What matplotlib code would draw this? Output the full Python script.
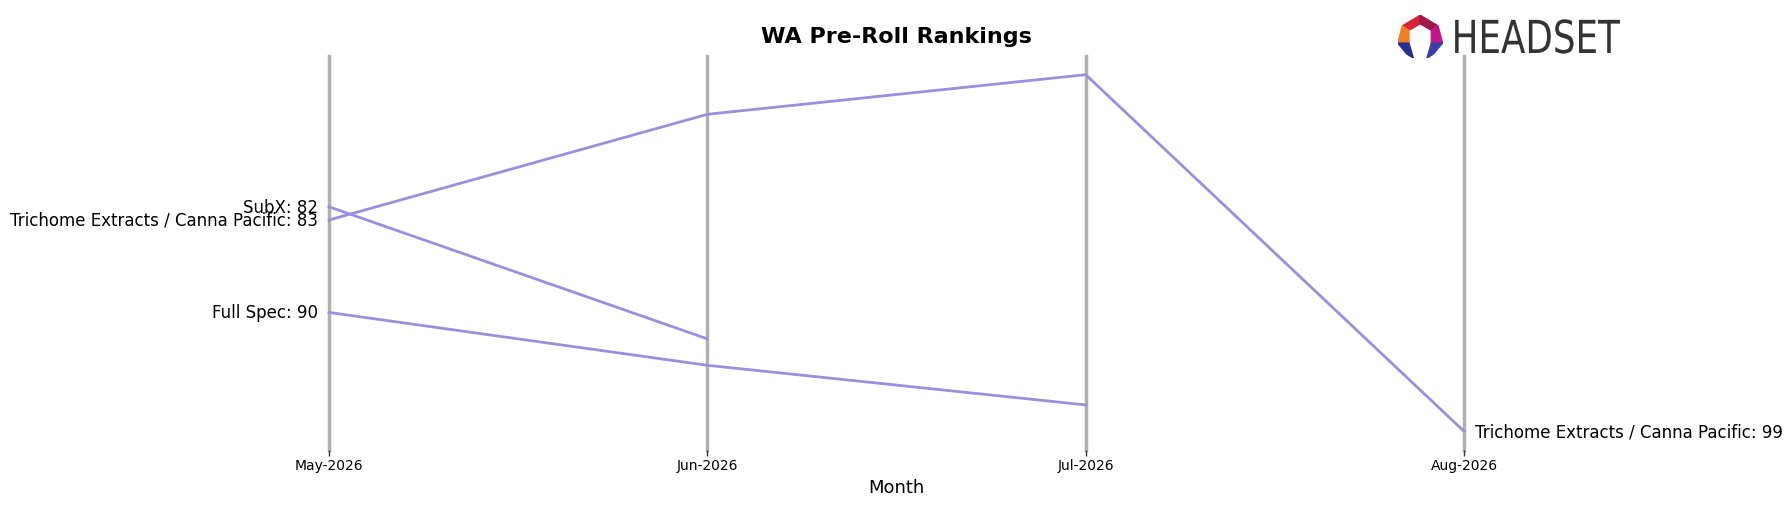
import matplotlib.pyplot as plt
from matplotlib.patches import Polygon, PathPatch
from matplotlib.textpath import TextPath
from matplotlib.font_manager import FontProperties

months = ["May-2026", "Jun-2026", "Jul-2026", "Aug-2026"]

trichome_ranks = [83, 75, 72, 99]
subx_ranks = [82, 92]
fullspec_ranks = [90, 94, 97]

series = [
    ("Trichome Extracts / Canna Pacific", trichome_ranks),
    ("SubX", subx_ranks),
    ("Full Spec", fullspec_ranks),
]

line_color = "#9b8fdc"

fig = plt.figure(figsize=(17.92, 5.06), dpi=100)
ax = fig.add_axes([0.1836, 0.109, 0.6334, 0.778])

x = list(range(len(months)))
for xi in x:
    ax.axvline(xi, color="#b0b0b0", linewidth=2.5, zorder=1, clip_on=False)

for name, ranks in series:
    xs = x[:len(ranks)]
    ax.plot(xs, ranks, color=line_color, linewidth=2, zorder=2, clip_on=False)
    ax.text(xs[0] - 0.03, ranks[0], f"{name}: {ranks[0]}", ha="right", va="center", fontsize=12)
    if len(ranks) == len(months):
        ax.text(xs[-1] + 0.03, ranks[-1], f"{name}: {ranks[-1]}", ha="left", va="center", fontsize=12)

ax.set_xlim(0, 3)
ax.set_ylim(100.4, 70.6)
ax.set_xticks(x)
ax.set_xticklabels(months, fontsize=10)
ax.tick_params(axis="x", length=4, width=1, color="#333333", pad=2)
ax.set_yticks([])
for s in ax.spines.values():
    s.set_visible(False)
ax.set_xlabel("Month", fontsize=13, labelpad=4)
ax.set_title("WA Pre-Roll Rankings", fontsize=16, fontweight="bold", pad=10)

# logo icon
lax = fig.add_axes([0.780, 0.883, 0.025, 0.085])
lax.set_xlim(0, 1)
lax.set_ylim(0, 1)
lax.axis("off")
shapes = [
    ([(0.1, 0.75), (0.5, 1.0), (0.5, 0.8), (0.25, 0.65)], "#d4243a"),
    ([(0.5, 1.0), (0.9, 0.75), (0.75, 0.65), (0.5, 0.8)], "#a0164a"),
    ([(0.1, 0.75), (0.25, 0.65), (0.25, 0.35), (0.0, 0.35)], "#f07e26"),
    ([(0.9, 0.75), (1.0, 0.35), (0.75, 0.35), (0.75, 0.65)], "#c0168a"),
    ([(0.0, 0.35), (0.25, 0.35), (0.35, 0.0), (0.2, 0.1)], "#2a2f8f"),
    ([(1.0, 0.35), (0.75, 0.35), (0.65, 0.0), (0.8, 0.1)], "#3a3fa0"),
]
for pts, c in shapes:
    lax.add_patch(Polygon(pts, closed=True, color=c))

# logo word, stretched into its box
tax = fig.add_axes([0.812, 0.892, 0.092, 0.068])
tp = TextPath((0, 0), "HEADSET", size=1, prop=FontProperties(family="DejaVu Sans"))
ext = tp.get_extents()
tax.add_patch(PathPatch(tp, color="#333333", lw=0))
tax.set_xlim(ext.x0, ext.x1)
tax.set_ylim(ext.y0, ext.y1)
tax.axis("off")

fig.savefig("out.png", dpi=100)
